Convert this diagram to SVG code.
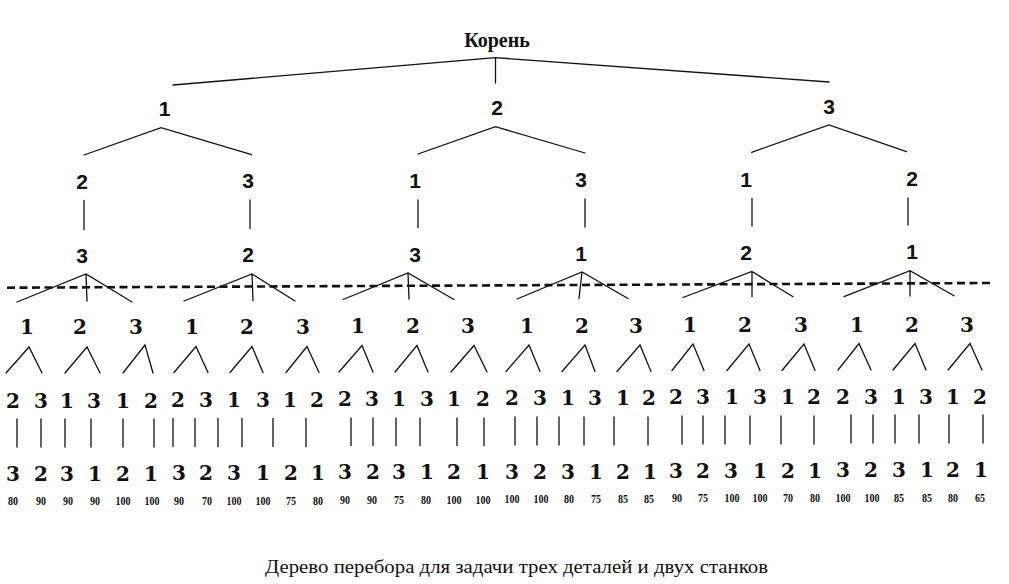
<svg xmlns="http://www.w3.org/2000/svg" width="1009" height="584" viewBox="0 0 1009 584">
<style>
.e{stroke:#111;stroke-width:1.3;fill:none;stroke-linecap:round}
.d{stroke:#111;stroke-width:2.6;fill:none;stroke-dasharray:8 4.5}
text{fill:#111;text-anchor:middle}
.r{font-family:"Liberation Serif",serif;font-weight:bold;font-size:20px}
.a{font-family:"Liberation Sans",Arial,sans-serif;font-weight:bold;font-size:21px}
.b{font-family:"DejaVu Serif",serif;font-weight:bold;font-size:20px}
.v{font-family:"Liberation Serif",serif;font-weight:bold;font-size:13.5px}
.c{font-family:"Liberation Serif",serif;font-size:18px}
</style>
<rect width="1009" height="584" fill="#fff"/>
<g id="connectors">
<path class="e" d="M173 85L495.5 57.7L829 82M495.5 57.7V83"/>
<path class="e" d="M84 155L161 127.7L251.6 154.7M418 154L495.5 126.7L585 153M751.6 152.3L829 125L906.5 151.7"/>
<path class="e" d="M84 200.5V229.5M250 200V228.5M418 200V227.5M585 199V227M752 198.5V226M908 198V225"/>
<path class="e" d="M17 302L86 274L132 302M86 274L87 301"/>
<path class="e" d="M184 301L252 274L295 301M252 274L253 300.5"/>
<path class="e" d="M343 299.5L408 273L454 299.5M408 273L409 299"/>
<path class="e" d="M517 299L582 272L628 298.5M582 272L579 298.5"/>
<path class="e" d="M683 297.5L752 271.5L793 296.7M752 271.5L752 296.7"/>
<path class="e" d="M844 296.7L910 270.7L954 295.7M910 270.7L910 296"/>
<path class="d" d="M7 287.7L993 283"/>
<path class="e" d="M6 373L29 347L42 373M65 373L87 347L100 373M123 373L145 345L153 373"/>
<path class="e" d="M174 372.5L196 346.5L208 372.5M230 372.5L252 346.5L263 372.5M286 372.5L307 346.5L319 372.5"/>
<path class="e" d="M339 372L362 345.5L373 372M395 372L417 345.5L428 372M451 372L474 345.5L487 372"/>
<path class="e" d="M506 371.5L529 345L540 371.5M562 371.5L585 345L595 371.5M617 371.5L640 345L651 371.5"/>
<path class="e" d="M672 370.5L693 344L704 370.5M727 370.5L749 344L760 370.5M782 370.5L804 344L815 370.5"/>
<path class="e" d="M838 370L859 343.5L871 370M893 370L915 343.5L926 370M948 370L970 343.5L982 370"/>
<path class="e" d="M17 419V447M41 419V447M65 419V447M91 419V447M123 419V447M154 419V447"/>
<path class="e" d="M173 418.5V446.5M195 418.5V446.5M218 418.5V446.5M242 418.5V446.5M273 418.5V446.5M306 418.5V446.5"/>
<path class="e" d="M351 418V445.5M373 418V445.5M396 418V445.5M420 418V445.5M457 418V445.5M484 418V445.5"/>
<path class="e" d="M515 417V445M537 417V445M559 417V445M584 417V445M614 417V445M648 417V445"/>
<path class="e" d="M682 416V444M703 416V444M725 416V444M750 416V444M781 416V444M814 416V444"/>
<path class="e" d="M851 415V443M873 415V443M895 415V443M919 415V443M949 415V443M983 415V443"/>
</g>
<g id="root"><text class="r" x="497" y="47">Корень</text></g>
<g id="n1"><text class="a" x="164.5" y="115.5">1</text></g>
<g id="n2"><text class="a" x="497" y="114.5">2</text></g>
<g id="n3"><text class="a" x="829" y="113.5">3</text></g>
<g id="n1-2"><text class="a" x="82" y="188.5">2</text></g>
<g id="n1-3"><text class="a" x="248" y="188">3</text></g>
<g id="n2-1"><text class="a" x="415" y="187.5">1</text></g>
<g id="n2-3"><text class="a" x="581" y="187">3</text></g>
<g id="n3-1"><text class="a" x="746" y="186.5">1</text></g>
<g id="n3-2"><text class="a" x="912" y="185.5">2</text></g>
<g id="n1-2-3"><text class="a" x="82" y="262.5">3</text></g>
<g id="n1-3-2"><text class="a" x="248" y="262">2</text></g>
<g id="n2-1-3"><text class="a" x="415" y="261.5">3</text></g>
<g id="n2-3-1"><text class="a" x="581" y="260.5">1</text></g>
<g id="n3-1-2"><text class="a" x="746" y="260">2</text></g>
<g id="n3-2-1"><text class="a" x="912" y="259">1</text></g>
<g id="l4-1"><text class="b" x="27" y="334">1</text></g>
<g id="l4-2"><text class="b" x="80" y="334">2</text></g>
<g id="l4-3"><text class="b" x="136" y="334">3</text></g>
<g id="l4-4"><text class="b" x="192" y="333.5">1</text></g>
<g id="l4-5"><text class="b" x="247" y="333.5">2</text></g>
<g id="l4-6"><text class="b" x="303" y="333.5">3</text></g>
<g id="l4-7"><text class="b" x="358" y="333">1</text></g>
<g id="l4-8"><text class="b" x="413" y="333">2</text></g>
<g id="l4-9"><text class="b" x="468" y="333">3</text></g>
<g id="l4-10"><text class="b" x="527" y="332.5">1</text></g>
<g id="l4-11"><text class="b" x="582" y="332.5">2</text></g>
<g id="l4-12"><text class="b" x="636" y="332.5">3</text></g>
<g id="l4-13"><text class="b" x="690" y="332">1</text></g>
<g id="l4-14"><text class="b" x="745" y="332">2</text></g>
<g id="l4-15"><text class="b" x="801" y="332">3</text></g>
<g id="l4-16"><text class="b" x="857" y="331.5">1</text></g>
<g id="l4-17"><text class="b" x="912" y="331.5">2</text></g>
<g id="l4-18"><text class="b" x="967" y="331.5">3</text></g>
<g id="l5-1"><text class="b" x="13" y="407.5">2</text></g>
<g id="l5-2"><text class="b" x="41" y="407.5">3</text></g>
<g id="l5-3"><text class="b" x="67" y="407.5">1</text></g>
<g id="l5-4"><text class="b" x="94" y="407.5">3</text></g>
<g id="l5-5"><text class="b" x="123" y="407.5">1</text></g>
<g id="l5-6"><text class="b" x="151" y="407.5">2</text></g>
<g id="l5-7"><text class="b" x="178" y="407">2</text></g>
<g id="l5-8"><text class="b" x="206" y="407">3</text></g>
<g id="l5-9"><text class="b" x="234" y="407">1</text></g>
<g id="l5-10"><text class="b" x="263" y="407">3</text></g>
<g id="l5-11"><text class="b" x="290" y="407">1</text></g>
<g id="l5-12"><text class="b" x="317" y="407">2</text></g>
<g id="l5-13"><text class="b" x="345" y="406">2</text></g>
<g id="l5-14"><text class="b" x="372" y="406">3</text></g>
<g id="l5-15"><text class="b" x="399" y="406">1</text></g>
<g id="l5-16"><text class="b" x="427" y="406">3</text></g>
<g id="l5-17"><text class="b" x="454" y="406">1</text></g>
<g id="l5-18"><text class="b" x="483" y="406">2</text></g>
<g id="l5-19"><text class="b" x="512" y="405">2</text></g>
<g id="l5-20"><text class="b" x="540" y="405">3</text></g>
<g id="l5-21"><text class="b" x="568" y="405">1</text></g>
<g id="l5-22"><text class="b" x="595" y="405">3</text></g>
<g id="l5-23"><text class="b" x="623" y="405">1</text></g>
<g id="l5-24"><text class="b" x="649" y="405">2</text></g>
<g id="l5-25"><text class="b" x="676" y="404">2</text></g>
<g id="l5-26"><text class="b" x="703" y="404">3</text></g>
<g id="l5-27"><text class="b" x="732" y="404">1</text></g>
<g id="l5-28"><text class="b" x="760" y="404">3</text></g>
<g id="l5-29"><text class="b" x="788" y="404">1</text></g>
<g id="l5-30"><text class="b" x="814" y="404">2</text></g>
<g id="l5-31"><text class="b" x="843" y="403.5">2</text></g>
<g id="l5-32"><text class="b" x="871" y="403.5">3</text></g>
<g id="l5-33"><text class="b" x="899" y="403.5">1</text></g>
<g id="l5-34"><text class="b" x="926" y="403.5">3</text></g>
<g id="l5-35"><text class="b" x="953" y="403.5">1</text></g>
<g id="l5-36"><text class="b" x="980" y="403.5">2</text></g>
<g id="l6-1"><text class="b" x="13" y="480.5">3</text><text class="v" x="13" y="505" textLength="10" lengthAdjust="spacingAndGlyphs">80</text></g>
<g id="l6-2"><text class="b" x="41" y="480.5">2</text><text class="v" x="41" y="505" textLength="10" lengthAdjust="spacingAndGlyphs">90</text></g>
<g id="l6-3"><text class="b" x="67" y="480.5">3</text><text class="v" x="68" y="505" textLength="10" lengthAdjust="spacingAndGlyphs">90</text></g>
<g id="l6-4"><text class="b" x="95" y="480.5">1</text><text class="v" x="95" y="505" textLength="10" lengthAdjust="spacingAndGlyphs">90</text></g>
<g id="l6-5"><text class="b" x="123" y="480.5">2</text><text class="v" x="123" y="505" textLength="15" lengthAdjust="spacingAndGlyphs">100</text></g>
<g id="l6-6"><text class="b" x="151" y="480.5">1</text><text class="v" x="152" y="505" textLength="15" lengthAdjust="spacingAndGlyphs">100</text></g>
<g id="l6-7"><text class="b" x="179" y="480">3</text><text class="v" x="179" y="504.5" textLength="10" lengthAdjust="spacingAndGlyphs">90</text></g>
<g id="l6-8"><text class="b" x="206" y="480">2</text><text class="v" x="207" y="504.5" textLength="10" lengthAdjust="spacingAndGlyphs">70</text></g>
<g id="l6-9"><text class="b" x="234" y="480">3</text><text class="v" x="234" y="504.5" textLength="15" lengthAdjust="spacingAndGlyphs">100</text></g>
<g id="l6-10"><text class="b" x="263" y="480">1</text><text class="v" x="263" y="504.5" textLength="15" lengthAdjust="spacingAndGlyphs">100</text></g>
<g id="l6-11"><text class="b" x="291" y="480">2</text><text class="v" x="291" y="504.5" textLength="10" lengthAdjust="spacingAndGlyphs">75</text></g>
<g id="l6-12"><text class="b" x="318" y="480">1</text><text class="v" x="318" y="504.5" textLength="10" lengthAdjust="spacingAndGlyphs">80</text></g>
<g id="l6-13"><text class="b" x="345" y="479">3</text><text class="v" x="345" y="503.5" textLength="10" lengthAdjust="spacingAndGlyphs">90</text></g>
<g id="l6-14"><text class="b" x="373" y="479">2</text><text class="v" x="372" y="503.5" textLength="10" lengthAdjust="spacingAndGlyphs">90</text></g>
<g id="l6-15"><text class="b" x="399" y="479">3</text><text class="v" x="399" y="503.5" textLength="10" lengthAdjust="spacingAndGlyphs">75</text></g>
<g id="l6-16"><text class="b" x="427" y="479">1</text><text class="v" x="426" y="503.5" textLength="10" lengthAdjust="spacingAndGlyphs">80</text></g>
<g id="l6-17"><text class="b" x="454" y="479">2</text><text class="v" x="454" y="503.5" textLength="15" lengthAdjust="spacingAndGlyphs">100</text></g>
<g id="l6-18"><text class="b" x="483" y="479">1</text><text class="v" x="483" y="503.5" textLength="15" lengthAdjust="spacingAndGlyphs">100</text></g>
<g id="l6-19"><text class="b" x="512" y="478.5">3</text><text class="v" x="512" y="503" textLength="15" lengthAdjust="spacingAndGlyphs">100</text></g>
<g id="l6-20"><text class="b" x="540" y="478.5">2</text><text class="v" x="541" y="503" textLength="15" lengthAdjust="spacingAndGlyphs">100</text></g>
<g id="l6-21"><text class="b" x="568" y="478.5">3</text><text class="v" x="569" y="503" textLength="10" lengthAdjust="spacingAndGlyphs">80</text></g>
<g id="l6-22"><text class="b" x="596" y="478.5">1</text><text class="v" x="596" y="503" textLength="10" lengthAdjust="spacingAndGlyphs">75</text></g>
<g id="l6-23"><text class="b" x="623" y="478.5">2</text><text class="v" x="623" y="503" textLength="10" lengthAdjust="spacingAndGlyphs">85</text></g>
<g id="l6-24"><text class="b" x="650" y="478.5">1</text><text class="v" x="649" y="503" textLength="10" lengthAdjust="spacingAndGlyphs">85</text></g>
<g id="l6-25"><text class="b" x="676" y="477.5">3</text><text class="v" x="677" y="502" textLength="10" lengthAdjust="spacingAndGlyphs">90</text></g>
<g id="l6-26"><text class="b" x="703" y="477.5">2</text><text class="v" x="703" y="502" textLength="10" lengthAdjust="spacingAndGlyphs">75</text></g>
<g id="l6-27"><text class="b" x="731" y="477.5">3</text><text class="v" x="732" y="502" textLength="15" lengthAdjust="spacingAndGlyphs">100</text></g>
<g id="l6-28"><text class="b" x="760" y="477.5">1</text><text class="v" x="760" y="502" textLength="15" lengthAdjust="spacingAndGlyphs">100</text></g>
<g id="l6-29"><text class="b" x="788" y="477.5">2</text><text class="v" x="788" y="502" textLength="10" lengthAdjust="spacingAndGlyphs">70</text></g>
<g id="l6-30"><text class="b" x="815" y="477.5">1</text><text class="v" x="815" y="502" textLength="10" lengthAdjust="spacingAndGlyphs">80</text></g>
<g id="l6-31"><text class="b" x="843" y="477">3</text><text class="v" x="843" y="501.5" textLength="15" lengthAdjust="spacingAndGlyphs">100</text></g>
<g id="l6-32"><text class="b" x="871" y="477">2</text><text class="v" x="872" y="501.5" textLength="15" lengthAdjust="spacingAndGlyphs">100</text></g>
<g id="l6-33"><text class="b" x="899" y="477">3</text><text class="v" x="899" y="501.5" textLength="10" lengthAdjust="spacingAndGlyphs">85</text></g>
<g id="l6-34"><text class="b" x="927" y="477">1</text><text class="v" x="927" y="501.5" textLength="10" lengthAdjust="spacingAndGlyphs">85</text></g>
<g id="l6-35"><text class="b" x="953" y="477">2</text><text class="v" x="953" y="501.5" textLength="10" lengthAdjust="spacingAndGlyphs">80</text></g>
<g id="l6-36"><text class="b" x="981" y="477">1</text><text class="v" x="980" y="501.5" textLength="10" lengthAdjust="spacingAndGlyphs">65</text></g>
<g id="caption"><text class="c" x="516.5" y="573" textLength="503" lengthAdjust="spacingAndGlyphs">Дерево перебора для задачи трех деталей и двух станков</text></g>
</svg>
